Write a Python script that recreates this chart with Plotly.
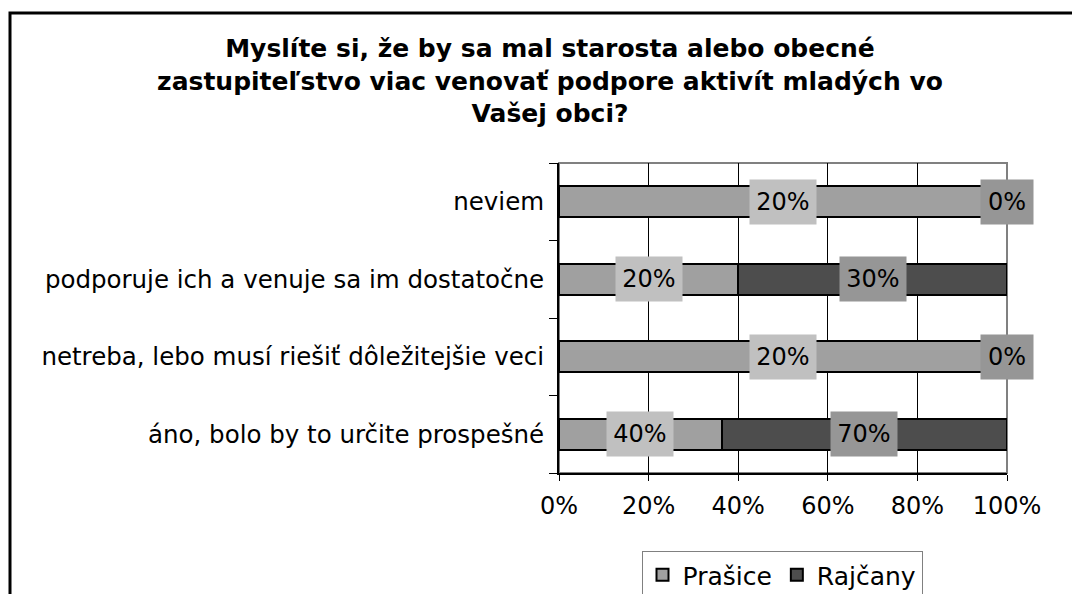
import plotly.graph_objects as go

# Data (raw percentages per municipality; bars are 100% stacked)
categories = [
    "áno, bolo by to určite prospešné",
    "netreba, lebo musí riešiť dôležitejšie veci",
    "podporuje ich a venuje sa im dostatočne",
    "neviem",
]
prasice = [40, 20, 20, 20]
rajcany = [70, 0, 30, 0]
series_names = ["Prašice", "Rajčany"]
x_ticks = [0, 20, 40, 60, 80, 100]
x_tick_labels = ["0%", "20%", "40%", "60%", "80%", "100%"]

title_text = ("Myslíte si, že by sa mal starosta alebo obecné<br>"
              "zastupiteľstvo viac venovať podpore aktivít mladých vo<br>"
              "Vašej obci?")

W, H = 1072, 594
L, R, T, B = 559, 65, 163, 121
pw, ph = W - L - R, H - T - B

def px_x(p):
    return (p - L) / pw

def px_y(p):
    return (H - B - p) / ph

FONT = "DejaVu Sans"

fig = go.Figure()
fig.add_trace(go.Bar(
    y=categories, x=prasice, name=series_names[0], orientation="h",
    marker=dict(color="#A0A0A0", line=dict(color="#000000", width=2)),
))
fig.add_trace(go.Bar(
    y=categories, x=rajcany, name=series_names[1], orientation="h",
    marker=dict(color="#4D4D4D", line=dict(color="#000000", width=2)),
))

annotations = []
for cat, p, r in zip(categories, prasice, rajcany):
    tot = p + r
    sp = p / tot * 100
    annotations.append(dict(
        x=sp / 2, y=cat, xref="x", yref="y", text=f"{p}%", showarrow=False,
        bgcolor="#C0C0C0", width=66, height=44, borderpad=0,
        font=dict(family=FONT, size=24, color="#000000"),
    ))
    annotations.append(dict(
        x=sp + (100 - sp) / 2, y=cat, xref="x", yref="y", text=f"{r}%", showarrow=False,
        bgcolor="#969696", width=66 if r > 0 else 52, height=44, borderpad=0,
        font=dict(family=FONT, size=24, color="#000000"),
    ))

fig.update_layout(
    width=W, height=H,
    margin=dict(l=L, r=R, t=T, b=B, autoexpand=False),
    paper_bgcolor="white", plot_bgcolor="white",
    barmode="stack", barnorm="percent", bargap=0.6,
    title=dict(
        text=f"<b>{title_text}</b>", x=550 / W, xref="container", xanchor="center",
        y=1 - 57 / H, yref="container", yanchor="top",
        font=dict(family=FONT, size=25, color="#000000"),
    ),
    font=dict(family=FONT, size=24, color="#000000"),
    showlegend=True,
    legend=dict(
        orientation="h", x=px_x(782), xanchor="center",
        y=1 - 551 / H, yref="container", yanchor="top",
        bordercolor="#808080", borderwidth=1, bgcolor="white",
        font=dict(family=FONT, size=25, color="#000000"),
        traceorder="normal", itemwidth=30,
    ),
    annotations=annotations,
    shapes=[
        dict(type="rect", xref="paper", yref="paper", x0=0, x1=1, y0=0, y1=1,
             line=dict(color="#808080", width=2), layer="between"),
        dict(type="rect", xref="paper", yref="paper",
             x0=px_x(10), x1=px_x(1085), y0=px_y(605), y1=px_y(13),
             line=dict(color="#000000", width=3), layer="below"),
    ],
)

fig.update_xaxes(
    range=[0, 100], tickvals=x_ticks, ticktext=x_tick_labels,
    showgrid=True, gridcolor="#000000", gridwidth=1,
    showline=True, linecolor="#000000", linewidth=2,
    ticks="outside", ticklen=6, tickcolor="#000000", tickwidth=1,
    ticklabelstandoff=4, zeroline=False,
    tickfont=dict(family=FONT, size=24, color="#000000"),
)
fig.update_yaxes(
    categoryorder="array", categoryarray=categories,
    showgrid=False, showline=True, linecolor="#000000", linewidth=2,
    ticks="outside", ticklen=8, tickcolor="#000000", tickwidth=1,
    tickson="boundaries", ticklabelstandoff=8,
    tickfont=dict(family=FONT, size=24.5, color="#000000"),
)

fig.write_html("out.html", config={"displayModeBar": False},
               post_script="document.body.style.margin='0';")
